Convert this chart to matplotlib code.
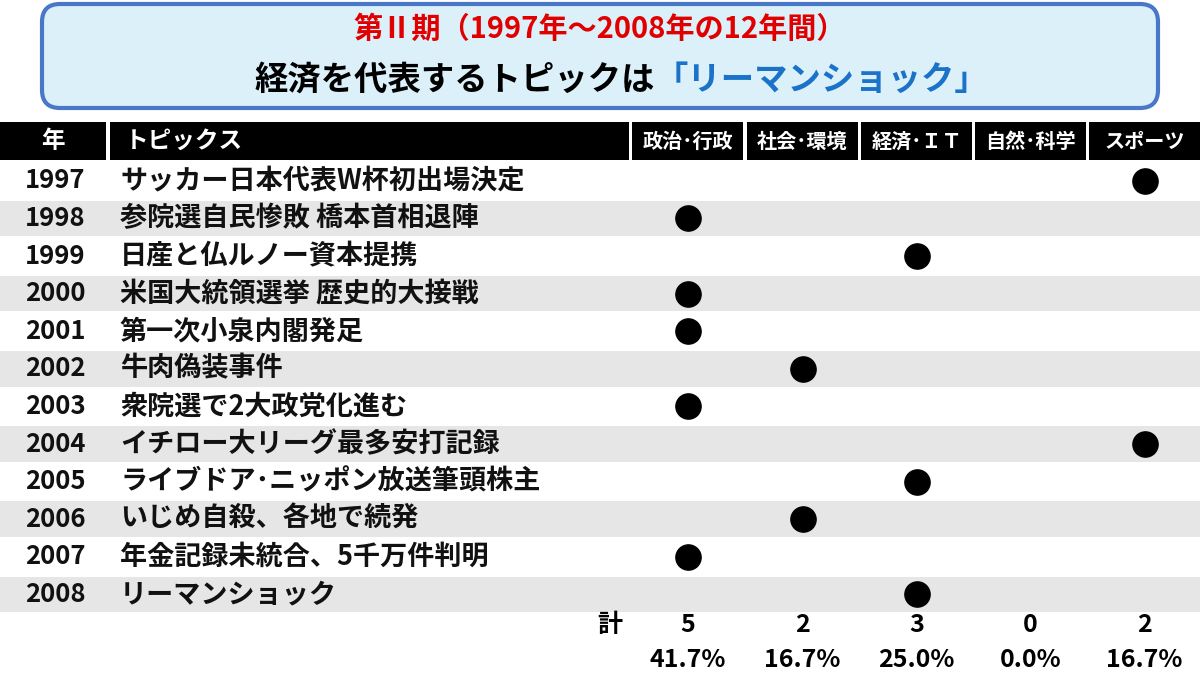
import matplotlib
matplotlib.use("Agg")
import matplotlib.pyplot as plt
from matplotlib.patches import FancyBboxPatch, Rectangle

plt.rcParams["font.family"] = ["Noto Sans CJK JP", "DejaVu Sans"]

categories = ["政治･行政", "社会･環境", "経済･ＩＴ", "自然･科学", "スポーツ"]
years = list(range(1997, 2009))
topics = [
    "サッカー日本代表W杯初出場決定",
    "参院選自民惨敗 橋本首相退陣",
    "日産と仏ルノー資本提携",
    "米国大統領選挙 歴史的大接戦",
    "第一次小泉内閣発足",
    "牛肉偽装事件",
    "衆院選で2大政党化進む",
    "イチロー大リーグ最多安打記録",
    "ライブドア･ニッポン放送筆頭株主",
    "いじめ自殺、各地で続発",
    "年金記録未統合、5千万件判明",
    "リーマンショック",
]
topic_cat = [4, 0, 2, 0, 0, 1, 0, 4, 2, 1, 0, 2]

fig = plt.figure(figsize=(12, 6.75), dpi=100)
ax = fig.add_axes([0, 0, 1, 1])
ax.set_xlim(0, 1200)
ax.set_ylim(675, 0)
ax.axis("off")

# title box
ax.add_patch(FancyBboxPatch((42, 4), 1116, 104, boxstyle="round,pad=0,rounding_size=18",
                            fc="#dcf0fa", ec="#4a78c8", lw=3))
ax.text(600, 29, "第Ⅱ期（1997年～2008年の12年間）", color="#e00000", fontsize=21,
        fontweight="bold", ha="center", va="center")
ax.text(655, 80, "経済を代表するトピックは", color="black", fontsize=24,
        fontweight="bold", ha="right", va="center")
ax.text(655, 80, "「リーマンショック」", color="#1a73c8", fontsize=24,
        fontweight="bold", ha="left", va="center")

# header
col_left = [632, 747, 861, 975, 1089]
col_w = 111
col_cx = [x + col_w / 2 for x in col_left]
hy, hh = 122, 38
ax.add_patch(Rectangle((0, hy), 106, hh, fc="black"))
ax.add_patch(Rectangle((110, hy), 519, hh, fc="black"))
ax.text(53, hy + hh / 2, "年", color="white", fontsize=17, fontweight="bold", ha="center", va="center")
ax.text(125, hy + hh / 2, "トピックス", color="white", fontsize=17, fontweight="bold", va="center")
for x, cx, c in zip(col_left, col_cx, categories):
    ax.add_patch(Rectangle((x, hy), col_w, hh, fc="black"))
    ax.text(cx, hy + hh / 2, c, color="white", fontsize=14.5, fontweight="bold", ha="center", va="center")

# rows
row_top, row_h = 162, 37.6
for i, (yr, tp, c) in enumerate(zip(years, topics, topic_cat)):
    y0 = row_top + i * row_h
    yc = y0 + row_h / 2
    if i % 2 == 1:
        ax.add_patch(Rectangle((0, y0 + 1), 1200, row_h - 2, fc="#e6e6e6"))
    ax.text(55, yc, str(yr), fontsize=18.5, fontweight="bold", ha="center", va="center", color="#111")
    ax.text(120, yc, tp, fontsize=19.5, fontweight="bold", va="center", color="#111")
    ax.scatter([col_cx[c]], [yc], s=330, color="black", zorder=3)

# totals
n = len(years)
counts = [topic_cat.count(k) for k in range(len(categories))]
ax.text(610, 625, "計", fontsize=18, fontweight="bold", ha="center", va="center")
for cx, k in zip(col_cx, counts):
    ax.text(cx, 625, str(k), fontsize=18, fontweight="bold", ha="center", va="center")
    ax.text(cx, 660, f"{k / n * 100:.1f}%", fontsize=18, fontweight="bold", ha="center", va="center")

fig.savefig("out.png", dpi=100, facecolor="white")
